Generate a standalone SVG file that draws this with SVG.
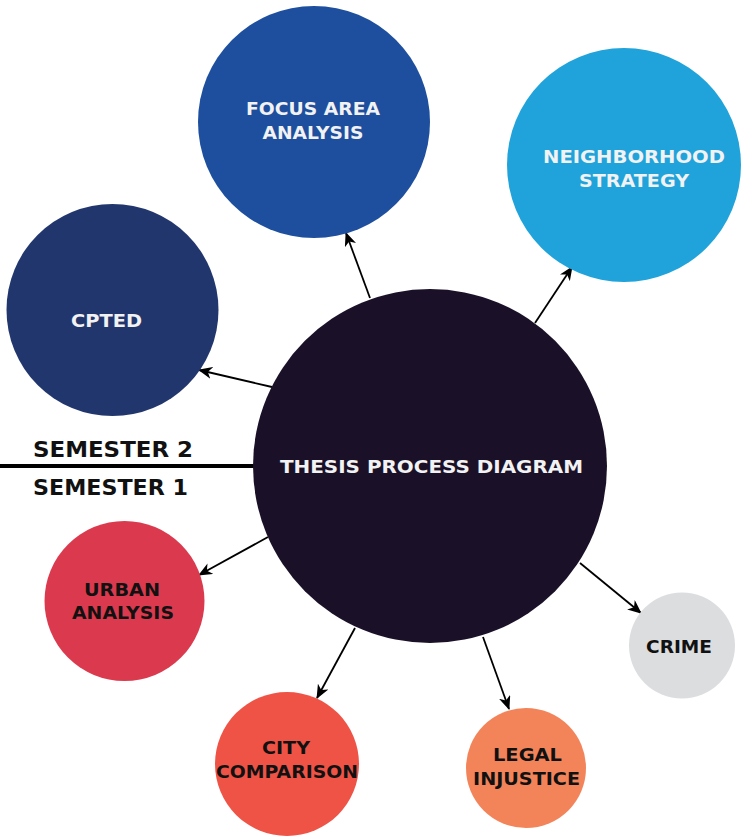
<svg xmlns="http://www.w3.org/2000/svg" width="748" height="838" viewBox="0 0 748 838">
  <defs>
    <marker id="arrow" markerWidth="14" markerHeight="12" refX="13" refY="6" orient="auto" markerUnits="userSpaceOnUse">
      <path d="M0,0 L14,6 L0,12 L4,6 Z" fill="#000"/>
    </marker>
    <style>
      .lbl { font-family: "DejaVu Sans", "Liberation Sans", sans-serif; font-weight: bold; text-anchor: middle; }
      .w { fill: #f2f2f2; font-size: 18px; }
      .k { fill: #111; font-size: 18px; }
      .sem { font-family: "DejaVu Sans", "Liberation Sans", sans-serif; font-weight: bold; font-size: 22px; fill: #111; }
      .conn { stroke: #000; stroke-width: 1.8; fill: none; marker-end: url(#arrow); }
    </style>
  </defs>
  <rect width="748" height="838" fill="#fff"/>

  <!-- semester divider -->
  <g id="semesters">
    <line x1="0" y1="466" x2="256" y2="466" stroke="#000" stroke-width="4"/>
    <text class="sem" x="33" y="457" textLength="160" lengthAdjust="spacingAndGlyphs">SEMESTER 2</text>
    <text class="sem" x="33" y="495" textLength="155" lengthAdjust="spacingAndGlyphs">SEMESTER 1</text>
  </g>

  <!-- connectors -->
  <g id="connectors">
    <line class="conn" x1="370" y1="298" x2="346" y2="233"/>
    <line class="conn" x1="535" y1="323" x2="572" y2="267"/>
    <line class="conn" x1="272" y1="387" x2="199" y2="370"/>
    <line class="conn" x1="268" y1="537" x2="199" y2="575"/>
    <line class="conn" x1="355" y1="628" x2="317" y2="698"/>
    <line class="conn" x1="483" y1="637" x2="509" y2="709"/>
    <line class="conn" x1="580" y1="563" x2="641" y2="613"/>
  </g>

  <g id="focus-area">
    <circle cx="314" cy="122" r="116" fill="#1e4f9e"/>
    <text class="lbl w" x="313" y="115" textLength="134" lengthAdjust="spacingAndGlyphs">FOCUS AREA</text>
    <text class="lbl w" x="313" y="139" textLength="101" lengthAdjust="spacingAndGlyphs">ANALYSIS</text>
  </g>

  <g id="neighborhood">
    <circle cx="624" cy="165" r="117" fill="#20a3da"/>
    <text class="lbl w" x="634" y="163" textLength="182" lengthAdjust="spacingAndGlyphs">NEIGHBORHOOD</text>
    <text class="lbl w" x="634" y="187" textLength="110" lengthAdjust="spacingAndGlyphs">STRATEGY</text>
  </g>

  <g id="cpted">
    <circle cx="112.5" cy="310" r="106" fill="#22366e"/>
    <text class="lbl w" x="106.5" y="327" textLength="71" lengthAdjust="spacingAndGlyphs">CPTED</text>
  </g>

  <g id="thesis">
    <circle cx="430" cy="466" r="177" fill="#1a1128"/>
    <text class="lbl w" x="431.5" y="473" font-size="19" textLength="303" lengthAdjust="spacingAndGlyphs">THESIS PROCESS DIAGRAM</text>
  </g>

  <g id="urban-analysis">
    <circle cx="124.5" cy="601" r="80" fill="#db3a4e"/>
    <text class="lbl k" x="122" y="596" textLength="76" lengthAdjust="spacingAndGlyphs">URBAN</text>
    <text class="lbl k" x="123" y="619" textLength="102" lengthAdjust="spacingAndGlyphs">ANALYSIS</text>
  </g>

  <g id="city-comparison">
    <circle cx="287" cy="764" r="72" fill="#ef5346"/>
    <text class="lbl k" x="286" y="754" textLength="48" lengthAdjust="spacingAndGlyphs">CITY</text>
    <text class="lbl k" x="287" y="778" textLength="142" lengthAdjust="spacingAndGlyphs">COMPARISON</text>
  </g>

  <g id="legal-injustice">
    <circle cx="526" cy="768" r="60" fill="#f3845a"/>
    <text class="lbl k" x="527.5" y="761" textLength="69" lengthAdjust="spacingAndGlyphs">LEGAL</text>
    <text class="lbl k" x="526.5" y="785" textLength="107" lengthAdjust="spacingAndGlyphs">INJUSTICE</text>
  </g>

  <g id="crime">
    <circle cx="682" cy="645.5" r="53" fill="#dcdddf"/>
    <text class="lbl k" x="679" y="653" textLength="66" lengthAdjust="spacingAndGlyphs">CRIME</text>
  </g>
</svg>
